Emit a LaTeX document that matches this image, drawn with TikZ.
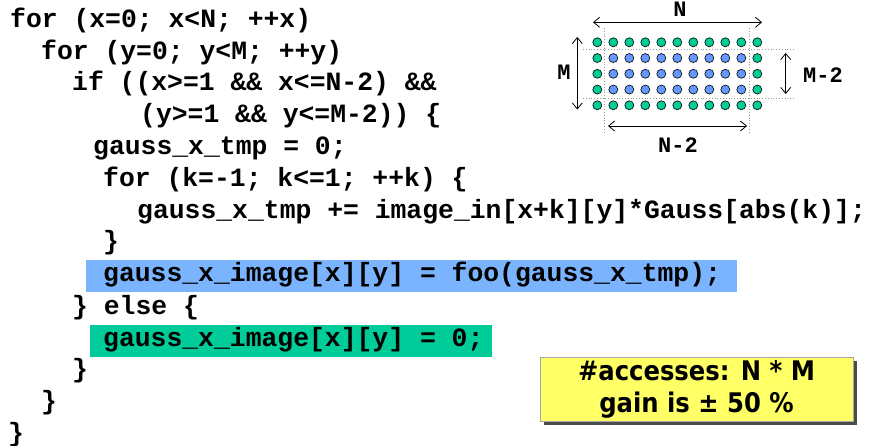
\documentclass[tikz,border=0pt]{standalone}
\usepackage{fontspec}
\usetikzlibrary{arrows.meta}
\newfontfamily\codefont{Liberation Mono}
\newfontfamily\notefont{DejaVu Sans Condensed}
\definecolor{hlblue}{RGB}{122,180,255}
\definecolor{hlgreen}{RGB}{0,204,153}
\definecolor{dotblue}{RGB}{102,153,255}
\definecolor{noteyellow}{RGB}{255,255,102}
\tikzset{
  code/.style={anchor=base west, inner sep=0pt, font=\codefont\bfseries\fontsize{26.4}{26}\selectfont},
  dimlabel/.style={inner sep=0pt, font=\codefont\bfseries\fontsize{22}{22}\selectfont},
  cell/.style={circle, draw=black, line width=0.6pt, minimum size=9pt, inner sep=0pt},
  border/.style={cell, fill=hlgreen},
  inner/.style={cell, fill=dotblue},
  guide/.style={draw=gray!80, dotted, line width=0.8pt},
  dimarrow/.style={draw=black, line width=0.8pt, {Straight Barb[length=6pt,width=10pt]}-{Straight Barb[length=6pt,width=10pt]}},
  notebox/.style={draw=gray!70, line width=0.8pt, fill=noteyellow, minimum width=313pt, minimum height=64pt, inner sep=0pt, align=center, font=\notefont\bfseries\fontsize{27}{32}\selectfont}
}
\begin{document}
\begin{tikzpicture}[x=1pt, y=-1pt]
  \useasboundingbox (0,0) rectangle (875,446);
  \fill[white] (0,0) rectangle (875,446);

  % highlighted statements
  \fill[hlblue] (86,260) rectangle (737,292);
  \fill[hlgreen] (90,325) rectangle (492,357);

  % source code, one node per line
  \node[code] (l1)  at (10,28)  {for (x=0; x<N; ++x)};
  \node[code] (l2)  at (41,59.5){for (y=0; y<M; ++y)};
  \node[code] (l3)  at (72,91)  {if ((x>=1 \&\& x<=N-2) \&\&};
  \node[code] (l4)  at (140,123){(y>=1 \&\& y<=M-2)) \{};
  \node[code] (l5)  at (93,155) {gauss\_x\_tmp = 0;};
  \node[code] (l6)  at (103,187){for (k=-1; k<=1; ++k) \{};
  \node[code] (l7)  at (137,219){gauss\_x\_tmp += image\_in[x+k][y]*Gauss[abs(k)];};
  \node[code] (l8)  at (103,250){\}};
  \node[code] (l9)  at (103,282){gauss\_x\_image[x][y] = foo(gauss\_x\_tmp);};
  \node[code] (l10) at (72,314) {\} else \{};
  \node[code] (l11) at (103,346){gauss\_x\_image[x][y] = 0;};
  \node[code] (l12) at (72,377) {\}};
  \node[code] (l13) at (41,409) {\}};
  \node[code] (l14) at (8,441)  {\}};

  % image grid: border pixels green, interior pixels blue
  \foreach \c in {0,...,10} {
    \foreach \r in {0,...,4} {
      \pgfmathsetmacro\px{597.3+16*\c}
      \pgfmathsetmacro\py{42.3+15.75*\r}
      \ifnum\c=0 \node[border] (p-\c-\r) at (\px,\py) {};
      \else\ifnum\c=10 \node[border] (p-\c-\r) at (\px,\py) {};
      \else\ifnum\r=0 \node[border] (p-\c-\r) at (\px,\py) {};
      \else\ifnum\r=4 \node[border] (p-\c-\r) at (\px,\py) {};
      \else \node[inner] (p-\c-\r) at (\px,\py) {};
      \fi\fi\fi\fi
    }
  }

  % guide lines around the interior
  \coordinate (gv1t) at (604.5,28);  \coordinate (gv1b) at (604.5,132);
  \coordinate (gv2t) at (749,28);    \coordinate (gv2b) at (749,132);
  \coordinate (gh1l) at (583,49.5);  \coordinate (gh1r) at (794,49.5);
  \coordinate (gh2l) at (583,98.5);  \coordinate (gh2r) at (794,98.5);
  \draw[guide] (gv1t) -- (gv1b);
  \draw[guide] (gv2t) -- (gv2b);
  \draw[guide] (gh1l) -- (gh1r);
  \draw[guide] (gh2l) -- (gh2r);

  % dimension arrows
  \coordinate (nl) at (593,22.3);   \coordinate (nr) at (762,22.3);
  \coordinate (mt) at (577.3,37);   \coordinate (mb) at (577.3,109.5);
  \coordinate (m2t) at (785.7,53);  \coordinate (m2b) at (785.7,94);
  \coordinate (n2l) at (608,126);   \coordinate (n2r) at (747,126);
  \draw[dimarrow] (nl) -- (nr);
  \draw[dimarrow] (mt) -- (mb);
  \draw[dimarrow] (m2t) -- (m2b);
  \draw[dimarrow] (n2l) -- (n2r);

  \node[dimlabel] (lN)  at (680,9.5)   {N};
  \node[dimlabel] (lM)  at (564,72)    {M};
  \node[dimlabel] (lM2) at (823,75)    {M-2};
  \node[dimlabel] (lN2) at (678,145.5) {N-2};

  % note with drop shadow
  \fill[gray!60!black] (544,361) rectangle (857,425);
  \node[notebox] (note) at (696.5,389) {\#accesses: N * M\\gain is ± 50 \%};
\end{tikzpicture}
\end{document}
